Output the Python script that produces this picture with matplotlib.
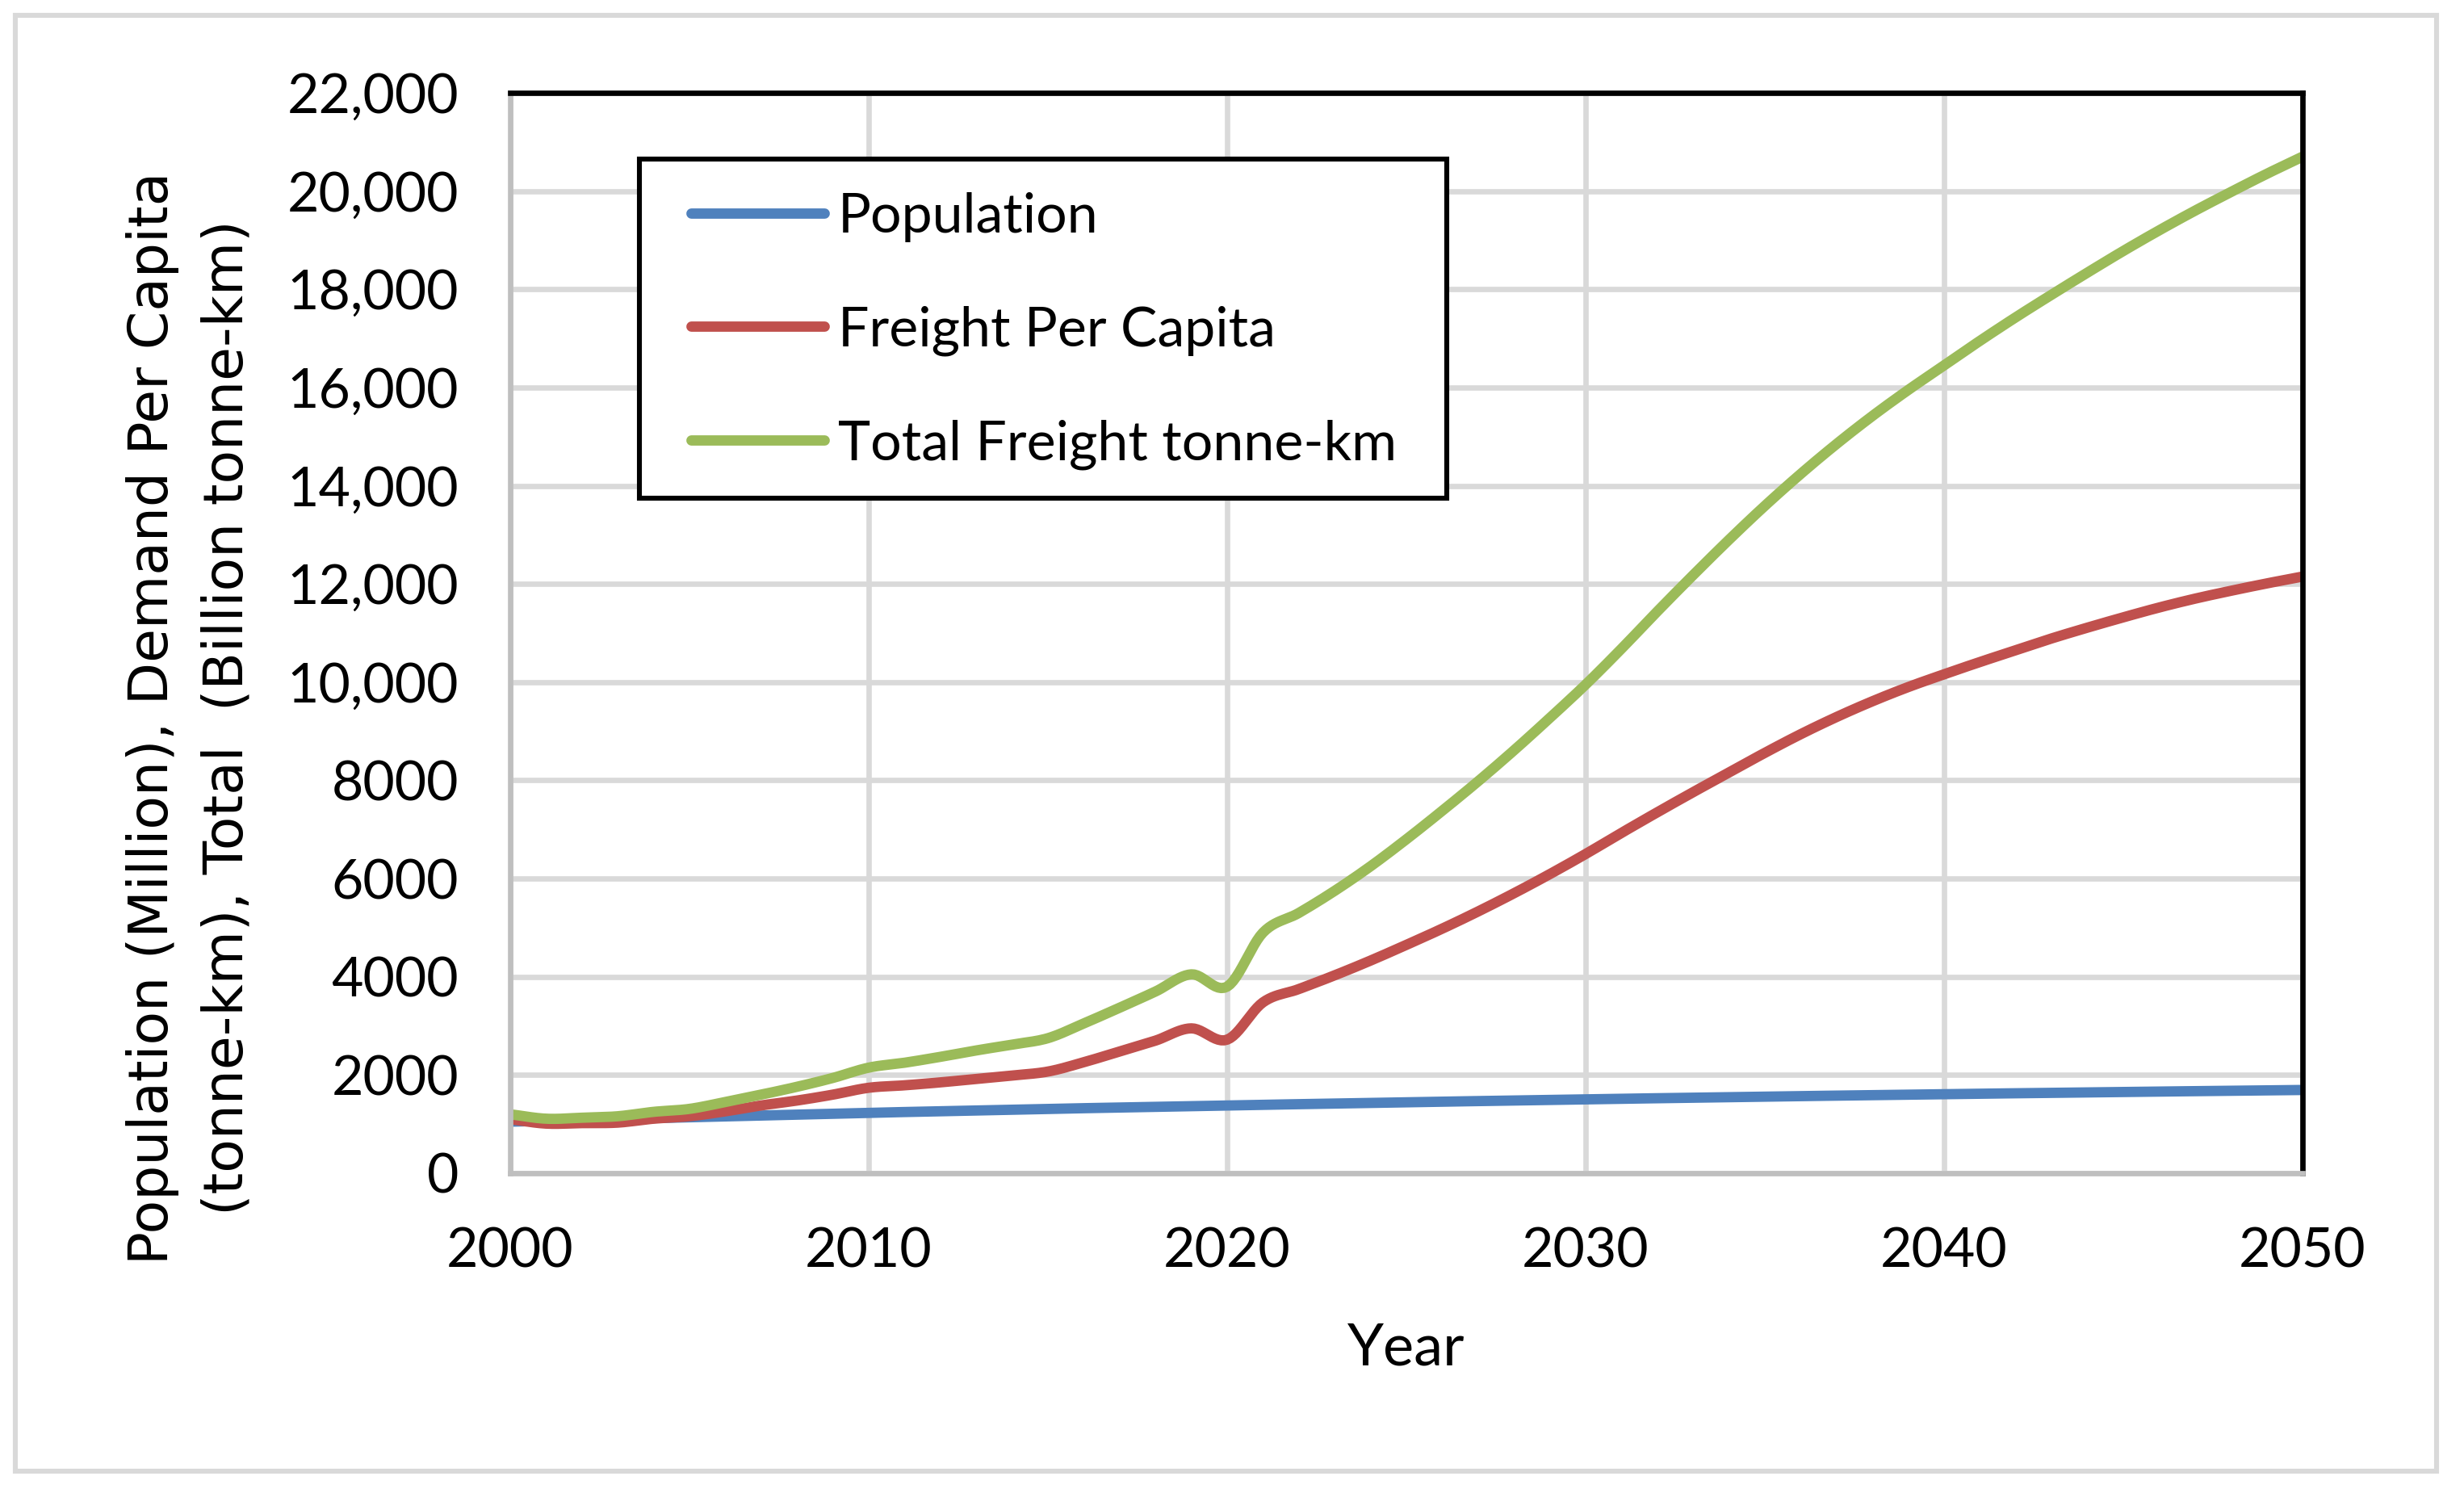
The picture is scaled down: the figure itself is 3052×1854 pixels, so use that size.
import matplotlib
matplotlib.use("Agg")
import matplotlib.pyplot as plt
import numpy as np
from matplotlib.patches import Rectangle
from matplotlib.ticker import FuncFormatter

plt.rcParams['font.family'] = ['Lato', 'DejaVu Sans']

years = list(range(2000, 2051))

population = [1050, 1068, 1086, 1104, 1122, 1140, 1158, 1176, 1194, 1212,
              1230, 1246, 1262, 1278, 1294, 1310, 1324, 1338, 1352, 1366,
              1380, 1393, 1406, 1419, 1432, 1445, 1457, 1469, 1481, 1493,
              1505, 1516, 1527, 1538, 1549, 1560, 1570, 1580, 1590, 1600,
              1610, 1619, 1628, 1637, 1646, 1655, 1663, 1671, 1679, 1687,
              1695]

freight_per_capita = [1100, 1010, 1020, 1030, 1110, 1160, 1260, 1380, 1480, 1600,
                      1740, 1790, 1850, 1920, 1990, 2070, 2260, 2480, 2700, 2950,
                      2720, 3480, 3750, 4030, 4330, 4650, 4980, 5330, 5700, 6090,
                      6500, 6930, 7350, 7760, 8160, 8560, 8940, 9290, 9610, 9900,
                      10160, 10410, 10650, 10890, 11110, 11320, 11520, 11700, 11860, 12010,
                      12150]

total_freight = [1200, 1110, 1130, 1160, 1250, 1310, 1450, 1600, 1760, 1940,
                 2150, 2250, 2370, 2500, 2620, 2750, 3050, 3370, 3700, 4050,
                 3800, 4900, 5300, 5750, 6250, 6800, 7380, 7980, 8610, 9270,
                 9950, 10680, 11440, 12180, 12900, 13590, 14240, 14850, 15420, 15950,
                 16450, 16950, 17430, 17890, 18340, 18780, 19200, 19600, 19980, 20350,
                 20700]

x_ticks = [2000, 2010, 2020, 2030, 2040, 2050]
y_ticks = list(range(0, 22001, 2000))


def smooth(xs, ys, n=12):
    # Catmull-Rom pass, roughly what Excel's "smoothed line" does
    xs = np.asarray(xs, float)
    ys = np.asarray(ys, float)
    px = np.concatenate([[2 * xs[0] - xs[1]], xs, [2 * xs[-1] - xs[-2]]])
    py = np.concatenate([[2 * ys[0] - ys[1]], ys, [2 * ys[-1] - ys[-2]]])
    t = np.linspace(0, 1, n, endpoint=False)
    ox, oy = [], []
    for i in range(1, len(px) - 2):
        for p, out in ((px, ox), (py, oy)):
            p0, p1, p2, p3 = p[i - 1], p[i], p[i + 1], p[i + 2]
            out.extend(0.5 * (2 * p1 + (-p0 + p2) * t + (2 * p0 - 5 * p1 + 4 * p2 - p3) * t ** 2
                              + (-p0 + 3 * p1 - 3 * p2 + p3) * t ** 3))
    ox.append(xs[-1])
    oy.append(ys[-1])
    return ox, oy


W, H = 3052, 1854
fig = plt.figure(figsize=(W / 200, H / 200), dpi=200)
ax = fig.add_axes([632 / W, 1 - 1453 / H, 2220 / W, 1338 / H])

# outer chart border like the spreadsheet export
fig.patches.append(Rectangle((19 / W, 1 - 1822 / H), 2999 / W, 1803 / H,
                             transform=fig.transFigure, fill=False,
                             edgecolor='#d9d9d9', linewidth=2.2))

lw = 4.6
for vals, col, lab in [(population, '#4f81bd', 'Population'),
                       (freight_per_capita, '#c0504d', 'Freight Per Capita'),
                       (total_freight, '#9bbb59', 'Total Freight tonne-km')]:
    sx, sy = smooth(years, vals)
    ax.plot(sx, sy, color=col, lw=lw, label=lab, solid_capstyle='round')

ax.set_xlim(2000, 2050)
ax.set_ylim(0, 22000)
ax.set_xticks(x_ticks)
ax.set_yticks(y_ticks)
ax.yaxis.set_major_formatter(FuncFormatter(lambda v, p: f"{int(v):,}" if v >= 10000 else f"{int(v)}"))
ax.tick_params(length=0, labelsize=24.5)
ax.tick_params(axis='y', pad=23)
ax.tick_params(axis='x', pad=24)

ax.grid(True, color='#d9d9d9', lw=2.4)
ax.set_axisbelow(True)
for side in ['top', 'right']:
    ax.spines[side].set_color('black')
    ax.spines[side].set_linewidth(2.4)
for side in ['left', 'bottom']:
    ax.spines[side].set_color('#bfbfbf')
    ax.spines[side].set_linewidth(2.4)

ax.set_xlabel('Year', fontsize=26, labelpad=20)
fig.text(0.077, 0.5205, 'Population (Million), Demand Per Capita\n(tonne-km), Total  (Billion tonne-km)',
         rotation=90, ha='center', va='center', multialignment='center', fontsize=24.5,
         family='DejaVu Sans', linespacing=1.5)

# legend frame drawn separately so the padding can match the original
frame = Rectangle((792 / W, 1 - 617 / H), 1000 / W, 420 / H,
                  transform=fig.transFigure, facecolor='white',
                  edgecolor='black', linewidth=2.2, zorder=4, clip_on=False)
ax.add_artist(frame)
leg = ax.legend(loc='upper left', bbox_to_anchor=(856 / W, 1 - 238 / H),
                bbox_transform=fig.transFigure, borderaxespad=0, borderpad=0,
                fontsize=24.5, frameon=False, handlelength=2.42, handletextpad=0.25,
                labelspacing=1.15)
leg.set_zorder(5)

fig.savefig('out.png', dpi=200)
